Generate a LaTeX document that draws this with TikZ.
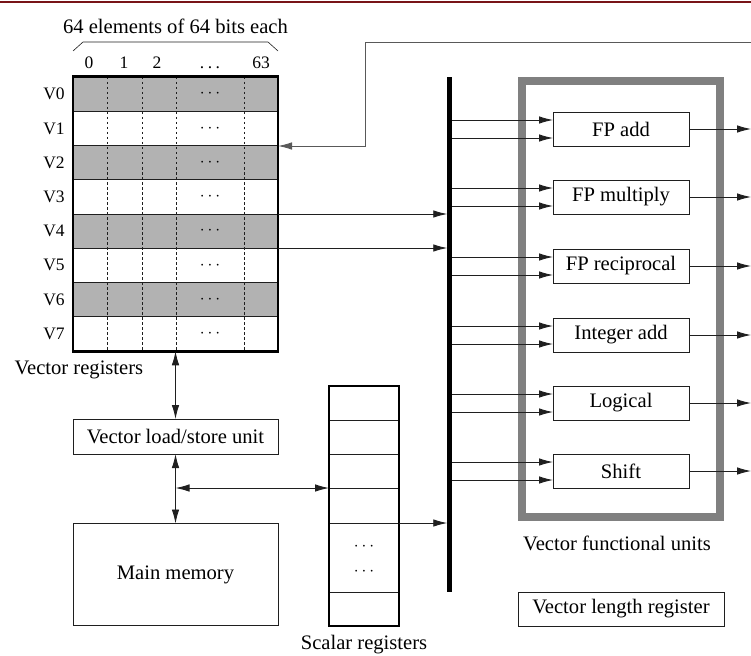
\documentclass[tikz,border=0pt]{standalone}
\usepackage{fontspec}
\setmainfont{Liberation Serif}
\usetikzlibrary{arrows.meta,calc}
\definecolor{rowgray}{gray}{0.70}
\definecolor{unitgray}{gray}{0.50}
\definecolor{inkgray}{gray}{0.12}
\definecolor{rulered}{RGB}{120,20,24}
\begin{document}
\begin{tikzpicture}[x=1pt,y=-1pt,
  font=\fontsize{20.6}{24}\selectfont,
  >={Latex[length=14pt,width=7.5pt]},
  box/.style={draw=inkgray, line width=0.8pt, inner sep=0pt, outer sep=0pt, minimum height=34pt},
  unit/.style={box, minimum width=136pt},
  link/.style={draw=inkgray, line width=0.9pt},
  small/.style={font=\fontsize{17.5}{20}\selectfont},
  cellsep/.style={draw=inkgray, line width=0.6pt, dash pattern=on 2.5pt off 2.5pt}]
\useasboundingbox (0,0) rectangle (751,655);
\draw[rulered, line width=2pt] (0,2) -- (751,2);

% vector register file: eight rows, shaded alternately
\foreach \i in {0,...,7} {
  \pgfmathsetmacro\ytop{77+34.25*\i}
  \pgfmathsetmacro\ymid{\ytop+17.125}
  \ifodd\i
    \draw[inkgray, line width=0.6pt] (73,\ytop) rectangle ++(205,34.25);
  \else
    \draw[inkgray, line width=0.6pt, fill=rowgray] (73,\ytop) rectangle ++(205,34.25);
  \fi
  \node[small] at (54,\ymid) {V\i};
  \node[font=\fontsize{16}{18}\selectfont] at (210,\ymid) {$\cdots$};
}
\foreach \x in {107,142,176,244}
  \draw[cellsep] (\x,77) -- (\x,351);
\node[draw, line width=2.8pt, minimum width=205pt, minimum height=274.5pt, inner sep=0pt, outer sep=0pt] (vreg) at (175.5,214) {};

% element brace and indices
\draw[inkgray, line width=0.6pt] (73,51) -- (83,42) -- (268,42) -- (278,51);
\node (title) at (175.5,26) {64 elements of 64 bits each};
\node[small, anchor=base] (c0) at (89,69) {0};
\node[small, anchor=base] (c1) at (124,69) {1};
\node[small, anchor=base] (c2) at (157,69) {2};
\node[small, anchor=base] (cd) at (210,69) {.\hspace{3.5pt}.\hspace{3.5pt}.};
\node[small, anchor=base] (c63) at (261,69) {63};
\node[anchor=west] (vrlabel) at (11,370) {Vector registers};

% load/store path and memory
\node[box, minimum width=205pt, minimum height=35pt] (ls) at (175.5,436.5) {Vector load/store unit};
\node[box, minimum width=205pt, minimum height=102pt] (mem) at (175.5,574.5) {Main memory};

% scalar register file
\foreach \y in {420,454,488,523,592}
  \draw[inkgray, line width=0.6pt] (329,\y) -- (399,\y);
\node[draw, line width=2.8pt, minimum width=70pt, minimum height=240pt, inner sep=0pt, outer sep=0pt] (sreg) at (364,506) {};
\node[font=\fontsize{16}{18}\selectfont] (sd1) at (364,547) {$\cdots$};
\node[font=\fontsize{16}{18}\selectfont] (sd2) at (364,572) {$\cdots$};
\node (srlabel) at (364,645) {Scalar registers};

% crossbar
\node[fill=black, minimum width=4.5pt, minimum height=515pt, inner sep=0pt, outer sep=0pt] (bus) at (449.5,334.5) {};

% functional units
\node[draw=unitgray, line width=8pt, minimum width=198pt, minimum height=436pt, inner sep=0pt, outer sep=0pt] (fu) at (621,299) {};
\node (fulabel) at (617,543) {Vector functional units};
\coordinate (rim) at (751,0);
\foreach \n/\t/\y in {fpadd/FP add/129, fpmul/FP multiply/197, fprec/FP reciprocal/266,
                      intadd/Integer add/335, logic/Logical/403, shift/Shift/471} {
  \node[unit] (\n) at (621,\y) {\t};
  \coordinate (\n-a) at ([yshift=9pt]\n.west);
  \coordinate (\n-b) at ([yshift=-9pt]\n.west);
  \draw[link, ->] (bus.east |- \n-a) -- (\n-a);
  \draw[link, ->] (bus.east |- \n-b) -- (\n-b);
  \draw[link, ->] (\n.east) -- (\n.east -| rim);
}
\node[box, minimum width=206pt] (vlr) at (621,609) {Vector length register};

% connections
\draw[link, <->] (vreg.south) -- (ls.north);
\draw[link, <->] (ls.south) -- (mem.north);
\coordinate (jn) at (175.5,488);
\draw[link, <->] (jn) -- (sreg.west |- jn);
\coordinate (s5) at (399,523);
\draw[link, ->] (s5) -- (bus.west |- s5);
\coordinate (v34) at (278,214);
\coordinate (v45) at (278,248);
\draw[link, ->] (v34) -- (bus.west |- v34);
\draw[link, ->] (v45) -- (bus.west |- v45);
\coordinate (fbin) at (751,42);
\coordinate (fbturn) at (365,146);
\draw[draw=unitgray!70!black, line width=0.9pt, ->] (fbin) -| (fbturn) -- (vreg.east |- fbturn);
\end{tikzpicture}
\end{document}
